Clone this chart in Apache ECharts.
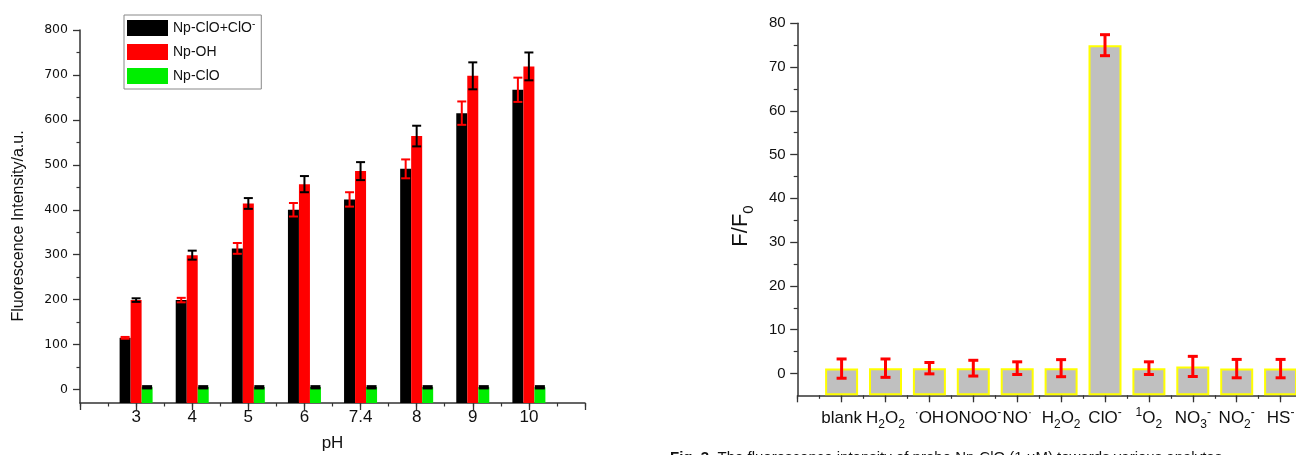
<!DOCTYPE html>
<html><head><meta charset="utf-8">
<script src="https://cdn.jsdelivr.net/npm/echarts@6/dist/echarts.min.js"></script>
<style>html,body{margin:0;padding:0;background:#fff}#c{width:1296px;height:455px}</style>
</head><body><div id="c"></div>
<script>
// ---------- Left chart data ----------
const phLabels = ['3', '4', '5', '6', '7.4', '8', '9', '10'];
const seriesNames = ['Np-ClO+ClO⁻', 'Np-OH', 'Np-ClO'];
const npClOClO = [115, 199, 314, 400, 423, 491, 615, 667];
const npClOClOErr = [2, 5, 12, 15, 16, 21, 26, 27];
const npOH = [199, 299, 414, 457, 486, 564, 698, 719];
const npOHErr = [4, 10, 12, 18, 20, 23, 30, 31];
const npClO = [5, 5, 5, 5, 5, 5, 5, 5];
const npClOErr = [2, 2, 2, 2, 2, 2, 2, 2];
const leftMajorTicks = [0, 100, 200, 300, 400, 500, 600, 700, 800];
const leftMinorTicks = [50, 150, 250, 350, 450, 550, 650, 750];

// ---------- Right chart data ----------
const analyteLabels = ['blank', 'H{sub|2}O{sub|2}', '{sup|·}OH', 'ONOO{sup|-}', 'NO{sup|·}', 'H{sub|2}O{sub|2}',
  'ClO{sup|-}', '{sup|1}O{sub|2}', 'NO{sub|3}{sup|-}', 'NO{sub|2}{sup|-}', 'HS{sup|-}'];
const ratio = [1.1, 1.2, 1.2, 1.2, 1.2, 1.2, 75, 1.2, 1.6, 1.1, 1.1];
const ratioErr = [2.2, 2.1, 1.3, 1.8, 1.45, 1.95, 2.4, 1.45, 2.3, 2.1, 2.1];
const rightMajorTicks = [0, 10, 20, 30, 40, 50, 60, 70, 80];
const rightMinorTicks = [5, 15, 25, 35, 45, 55, 65, 75];

const captionText = '{b|Fig. 3.} The fluorescence intensity of probe Np-ClO (1 μM) towards various analytes';

// ---------- build ----------
const FONT = "'Liberation Sans', Arial, sans-serif";
const AX = '#333';
const leftCats = [''].concat(phLabels, ['']);
const rightCats = [''].concat(analyteLabels, ['']);
const barW = 11;

function pairs(vals) { return vals.map((v, i) => [i + 1, v]); }

function errSeries(xi, yi, vals, errs, offset, color, lw, cap) {
  return {
    type: 'custom', xAxisIndex: xi, yAxisIndex: yi, z: 5, silent: true, clip: false,
    data: vals.map((v, i) => [i + 1, v, errs[i]]),
    renderItem(params, api) {
      const c = api.value(0), v = api.value(1), e = api.value(2);
      const t = api.coord([c, v + e]), b = api.coord([c, v - e]);
      const x = t[0] + offset, h = cap / 2;
      const st = { stroke: color, lineWidth: lw };
      return { type: 'group', children: [
        { type: 'line', shape: { x1: x, y1: t[1], x2: x, y2: b[1] }, style: st },
        { type: 'line', shape: { x1: x - h, y1: t[1], x2: x + h, y2: t[1] }, style: st },
        { type: 'line', shape: { x1: x - h, y1: b[1], x2: x + h, y2: b[1] }, style: st }
      ] };
    }
  };
}

const chart = echarts.init(document.getElementById('c'), null, { renderer: 'canvas' });

const option = {
  animation: false,
  backgroundColor: '#fff',
  grid: [
    { left: 80, top: 30, right: 711, bottom: 52, containLabel: false, outerBoundsMode: 'none' },
    { left: 797.7, top: 23.3, right: -28.5, bottom: 59.7, containLabel: false, outerBoundsMode: 'none' }
  ],
  legend: {
    data: seriesNames, orient: 'vertical', left: 124, top: 15,
    padding: [4, 6, 4, 3], itemGap: 6, itemWidth: 41, itemHeight: 16,
    borderColor: '#888', borderWidth: 1, icon: 'rect', selectedMode: false,
    formatter: n => n.replace('⁻', '{sup|-}'),
    textStyle: { fontFamily: FONT, fontSize: 14, color: '#111', lineHeight: 18,
      rich: { sup: { fontFamily: FONT, fontSize: 10, lineHeight: 10, verticalAlign: 'top', color: '#111' } } }
  },
  xAxis: [
    { gridIndex: 0, type: 'category', data: leftCats, boundaryGap: false,
      axisLine: { show: true, onZero: false, lineStyle: { color: AX, width: 1.5 } },
      axisTick: { show: true, length: 7, interval: 0, lineStyle: { color: AX, width: 1.3 } },
      axisLabel: { interval: 0, margin: 6, fontFamily: FONT, fontSize: 17, color: '#111' },
      name: 'pH', nameLocation: 'middle', nameGap: 32,
      nameTextStyle: { fontFamily: FONT, fontSize: 17, color: '#111' },
      splitLine: { show: false } },
    { gridIndex: 0, type: 'value', min: 0, max: 9, interval: 0.5, position: 'bottom',
      axisLine: { show: false, onZero: false }, axisLabel: { show: false }, splitLine: { show: false },
      axisTick: { show: true, length: 3.5, lineStyle: { color: AX, width: 1.2 } } },
    { gridIndex: 1, type: 'category', data: rightCats, boundaryGap: false,
      axisLine: { show: true, onZero: false, lineStyle: { color: AX, width: 1.5 } },
      axisTick: { show: true, length: 7, interval: 0, lineStyle: { color: AX, width: 1.3 } },
      axisLabel: { interval: 0, margin: 11, fontFamily: FONT, fontSize: 17, color: '#111', lineHeight: 24,
        rich: {
          sub: { fontFamily: FONT, fontSize: 12, lineHeight: 12, verticalAlign: 'bottom', color: '#111' },
          sup: { fontFamily: FONT, fontSize: 12, lineHeight: 12, verticalAlign: 'top', color: '#111' }
        } },
      splitLine: { show: false } },
    { gridIndex: 1, type: 'value', min: 0, max: 12, interval: 0.5, position: 'bottom',
      axisLine: { show: false, onZero: false }, axisLabel: { show: false }, splitLine: { show: false },
      axisTick: { show: true, length: 3.5, lineStyle: { color: AX, width: 1.2 } } }
  ],
  yAxis: [
    { gridIndex: 0, type: 'value', min: -30, max: 800, startValue: -30, position: 'left',
      axisLine: { show: true, onZero: false, lineStyle: { color: AX, width: 1.5 } },
      axisTick: { show: true, length: 7, customValues: leftMajorTicks, lineStyle: { color: AX, width: 1.3 } },
      axisLabel: { customValues: leftMajorTicks, margin: 12, fontFamily: "'DejaVu Sans', sans-serif", fontSize: 12.5, color: '#111' },
      splitLine: { show: false } },
    { gridIndex: 0, type: 'value', min: -30, max: 800, position: 'left', offset: 0,
      axisLine: { show: false, onZero: false }, axisLabel: { show: false }, splitLine: { show: false },
      axisTick: { show: true, length: 3.5, customValues: leftMinorTicks, lineStyle: { color: AX, width: 1.2 } } },
    { gridIndex: 1, type: 'value', min: -5, max: 80, startValue: -5, position: 'left',
      axisLine: { show: true, onZero: false, lineStyle: { color: AX, width: 1.5 } },
      axisTick: { show: true, length: 7.5, customValues: rightMajorTicks, lineStyle: { color: AX, width: 1.3 } },
      axisLabel: { customValues: rightMajorTicks, margin: 12, fontFamily: FONT, fontSize: 15, color: '#111' },
      splitLine: { show: false } },
    { gridIndex: 1, type: 'value', min: -5, max: 80, position: 'left', offset: 0,
      axisLine: { show: false, onZero: false }, axisLabel: { show: false }, splitLine: { show: false },
      axisTick: { show: true, length: 4, customValues: rightMinorTicks, lineStyle: { color: AX, width: 1.2 } } }
  ],
  series: [
    { type: 'bar', name: seriesNames[0], xAxisIndex: 0, yAxisIndex: 0, data: pairs(npClOClO),
      barWidth: barW, barGap: '0%', itemStyle: { color: '#000000' }, emphasis: { disabled: true } },
    { type: 'bar', name: seriesNames[1], xAxisIndex: 0, yAxisIndex: 0, data: pairs(npOH),
      barWidth: barW, barGap: '0%', itemStyle: { color: '#ff0000' }, emphasis: { disabled: true } },
    { type: 'bar', name: seriesNames[2], xAxisIndex: 0, yAxisIndex: 0, data: pairs(npClO),
      barWidth: barW, barGap: '0%', itemStyle: { color: '#00ee00' }, emphasis: { disabled: true } },
    errSeries(0, 0, npClOClO, npClOClOErr, -barW, '#ff0000', 2, 9),
    errSeries(0, 0, npOH, npOHErr, 0, '#000000', 2, 9),
    errSeries(0, 0, npClO, npClOErr, barW, '#000000', 2.5, 10),
    { type: 'bar', xAxisIndex: 2, yAxisIndex: 2, data: pairs(ratio), barWidth: 33,
      itemStyle: { color: '#c0c0c0', borderColor: '#ffff00', borderWidth: 2 }, emphasis: { disabled: true } },
    errSeries(2, 2, ratio, ratioErr, 0, '#ff0000', 3, 10)
  ],
  graphic: [
    { type: 'text', x: 19, y: 226, rotation: Math.PI / 2,
      style: { text: 'Fluorescence Intensity/a.u.', align: 'center', verticalAlign: 'middle',
        fontFamily: FONT, fontSize: 16, fill: '#111' } },
    { type: 'text', x: 741, y: 226, rotation: Math.PI / 2,
      style: { text: 'F/F{sub|0}', align: 'center', verticalAlign: 'middle',
        fontFamily: FONT, fontSize: 22, fill: '#111', lineHeight: 30,
        rich: { sub: { fontFamily: FONT, fontSize: 15, lineHeight: 15, verticalAlign: 'bottom', fill: '#111' } } } },
    { type: 'text', left: 670, top: 450,
      style: { text: captionText, fontFamily: FONT, fontSize: 15, fill: '#111',
        rich: { b: { fontFamily: FONT, fontSize: 15, fontWeight: 'bold', fill: '#111' } } } }
  ]
};
chart.setOption(option);
</script></body></html>
